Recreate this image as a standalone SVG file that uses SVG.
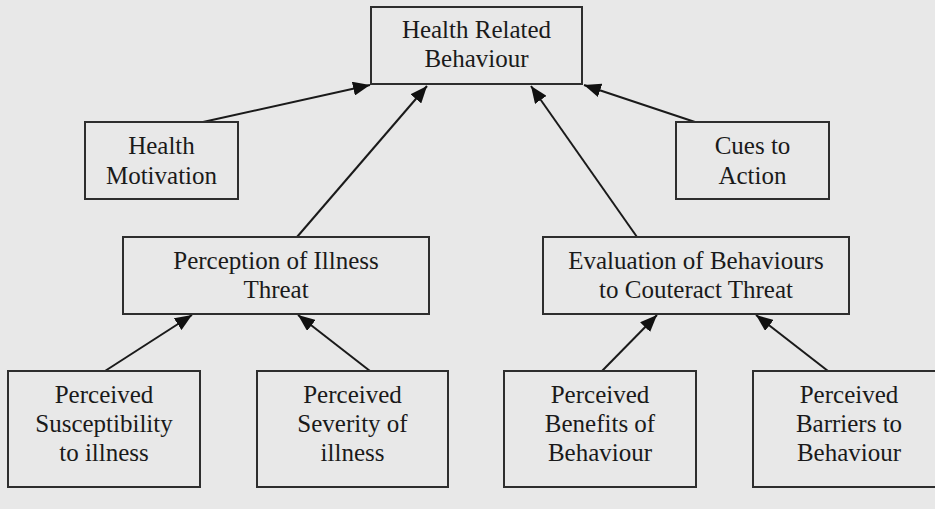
<svg xmlns="http://www.w3.org/2000/svg" width="935" height="509" viewBox="0 0 935 509">
<style>
.box{fill:#e8e8e8;stroke:#2e2e2e;stroke-width:2}
.t{font-family:"Liberation Serif","Times New Roman",serif;font-size:25px;fill:#1a1a1a;text-anchor:middle}
.c{stroke:#1a1a1a;stroke-width:2;fill:none;marker-end:url(#ah)}
</style>
<defs>
<marker id="ah" markerUnits="userSpaceOnUse" markerWidth="18" markerHeight="14" refX="17" refY="7" orient="auto">
<path d="M0,0 L17,7 L0,14 Z" fill="#111"/>
</marker>
</defs>
<rect width="935" height="509" fill="#e8e8e8"/>
<g id="connectors">
<line class="c" x1="203" y1="122" x2="370" y2="85"/>
<line class="c" x1="297" y1="237" x2="427" y2="86"/>
<line class="c" x1="637" y1="237" x2="531" y2="86"/>
<line class="c" x1="695" y1="122" x2="584" y2="85"/>
<line class="c" x1="105" y1="371" x2="192" y2="315"/>
<line class="c" x1="370" y1="371" x2="298" y2="315"/>
<line class="c" x1="602" y1="371" x2="657" y2="315"/>
<line class="c" x1="828" y1="371" x2="756" y2="315"/>
</g>
<g id="health-related-behaviour">
<rect class="box" x="371" y="7" width="211" height="77"/>
<text class="t" x="476.5" y="38">Health Related</text>
<text class="t" x="476.5" y="67">Behaviour</text>
</g>
<g id="health-motivation">
<rect class="box" x="85" y="122" width="153" height="77"/>
<text class="t" x="161.5" y="154">Health</text>
<text class="t" x="161.5" y="184">Motivation</text>
</g>
<g id="cues-to-action">
<rect class="box" x="676" y="122" width="153" height="77"/>
<text class="t" x="752.5" y="154">Cues to</text>
<text class="t" x="752.5" y="184">Action</text>
</g>
<g id="perception">
<rect class="box" x="123" y="237" width="306" height="77"/>
<text class="t" x="276" y="269">Perception of Illness</text>
<text class="t" x="276" y="298">Threat</text>
</g>
<g id="evaluation">
<rect class="box" x="543" y="237" width="306" height="77"/>
<text class="t" x="696" y="269">Evaluation of Behaviours</text>
<text class="t" x="696" y="298">to Couteract Threat</text>
</g>
<g id="susceptibility">
<rect class="box" x="8" y="371" width="192" height="116"/>
<text class="t" x="104" y="403">Perceived</text>
<text class="t" x="104" y="432">Susceptibility</text>
<text class="t" x="104" y="461">to illness</text>
</g>
<g id="severity">
<rect class="box" x="257" y="371" width="191" height="116"/>
<text class="t" x="352.5" y="403">Perceived</text>
<text class="t" x="352.5" y="432">Severity of</text>
<text class="t" x="352.5" y="461">illness</text>
</g>
<g id="benefits">
<rect class="box" x="504" y="371" width="192" height="116"/>
<text class="t" x="600" y="403">Perceived</text>
<text class="t" x="600" y="432">Benefits of</text>
<text class="t" x="600" y="461">Behaviour</text>
</g>
<g id="barriers">
<rect class="box" x="753" y="371" width="192" height="116"/>
<text class="t" x="849" y="403">Perceived</text>
<text class="t" x="849" y="432">Barriers to</text>
<text class="t" x="849" y="461">Behaviour</text>
</g>
</svg>
